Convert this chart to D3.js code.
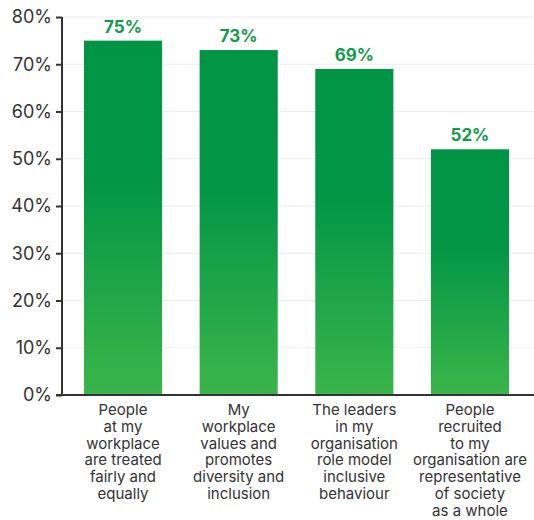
<!DOCTYPE html>
<html>
<head>
<meta charset="utf-8">
<script src="https://cdn.jsdelivr.net/npm/d3@7"></script>
<style>
  html, body { margin: 0; padding: 0; background: #fff; }
  svg { display: block; font-family: Inter, "Liberation Sans", sans-serif; }
</style>
</head>
<body>
<svg id="chart" width="534" height="520"></svg>
<script>
// Survey statements and share of respondents agreeing
const categories = [
  ["People", "at my", "workplace", "are treated", "fairly and", "equally"],
  ["My", "workplace", "values and", "promotes", "diversity and", "inclusion"],
  ["The leaders", "in my", "organisation", "role model", "inclusive", "behaviour"],
  ["People", "recruited", "to my", "organisation are", "representative", "of society", "as a whole"]
];
const values = [75, 73, 69, 52];
const yTicks = [0, 10, 20, 30, 40, 50, 60, 70, 80];

const svg = d3.select("#chart");
const axisX = 62, plotTop = 17, plotBottom = 395, plotRight = 534;

const x = d3.scaleBand()
  .domain(d3.range(values.length))
  .range([axisX, 531])
  .paddingInner(0.3247)
  .paddingOuter(0.19);

const y = d3.scaleLinear().domain([0, 80]).range([plotBottom, plotTop]);

// Vertical gradient used by every bar
const grad = svg.append("defs").append("linearGradient")
  .attr("id", "barFill").attr("x1", 0).attr("y1", 0).attr("x2", 0).attr("y2", 1);
grad.append("stop").attr("offset", 0).attr("stop-color", "#009444");
grad.append("stop").attr("offset", 0.4).attr("stop-color", "#039646");
grad.append("stop").attr("offset", 1).attr("stop-color", "#3bb54a");

// Light horizontal gridlines
svg.append("g").selectAll("line")
  .data(yTicks.filter(d => d > 0))
  .join("line")
  .attr("x1", axisX).attr("x2", plotRight)
  .attr("y1", d => y(d)).attr("y2", d => y(d))
  .attr("stroke", "#ececec").attr("stroke-width", 1);

// Bars
svg.append("g").selectAll("rect")
  .data(values)
  .join("rect")
  .attr("x", (d, i) => x(i))
  .attr("width", x.bandwidth())
  .attr("y", d => y(d))
  .attr("height", d => y(0) - y(d))
  .attr("fill", "url(#barFill)");

// Value labels
svg.append("g").selectAll("text")
  .data(values)
  .join("text")
  .attr("x", (d, i) => x(i) + x.bandwidth() / 2)
  .attr("y", d => y(d) - 8)
  .attr("text-anchor", "middle")
  .attr("font-size", 17)
  .attr("font-weight", 700)
  .attr("fill", "#129b4a")
  .text(d => d + "%");

// Y axis
const yAxis = d3.axisLeft(y)
  .tickValues(yTicks)
  .tickFormat(d => d + "%")
  .tickSize(6)
  .tickPadding(4);
const gy = svg.append("g").attr("transform", `translate(${axisX},0)`).call(yAxis);
gy.select(".domain").attr("stroke", "#333").attr("stroke-width", 2).attr("d", `M0,${plotTop}V${plotBottom}`);
gy.selectAll(".tick line").attr("stroke", "#333").attr("stroke-width", 2);
gy.selectAll(".tick text")
  .attr("font-size", 18)
  .attr("fill", "#333")
  .attr("font-family", "Inter, 'Liberation Sans', sans-serif");

// Baseline
svg.append("line")
  .attr("x1", axisX - 6).attr("x2", plotRight)
  .attr("y1", plotBottom).attr("y2", plotBottom)
  .attr("stroke", "#333").attr("stroke-width", 2);

// Category labels, one tspan per line
const cat = svg.append("g").selectAll("text")
  .data(categories)
  .join("text")
  .attr("text-anchor", "middle")
  .attr("font-size", 15)
  .attr("fill", "#333")
  .attr("transform", (d, i) => `translate(${x(i) + x.bandwidth() / 2},${plotBottom + 20})`);
cat.selectAll("tspan")
  .data(d => d)
  .join("tspan")
  .attr("x", 0)
  .attr("y", (d, j) => j * 16.8)
  .text(d => d);
</script>
</body>
</html>
